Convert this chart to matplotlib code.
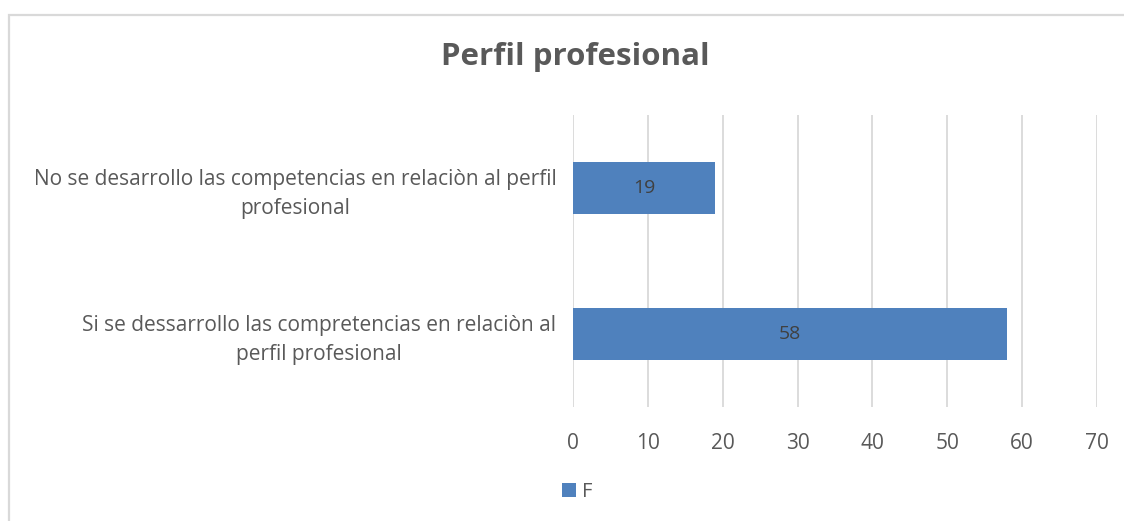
import matplotlib

matplotlib.use("Agg")
import matplotlib.pyplot as plt
from matplotlib.patches import Rectangle

categories = [
    "Si se dessarrollo las compretencias en relaciòn al\nperfil profesional",
    "No se desarrollo las competencias en relaciòn al perfil\nprofesional",
]
values = [58, 19]
series_name = "F"
xticks = [0, 10, 20, 30, 40, 50, 60, 70]

C_BAR = "#4F81BD"
C_TEXT = "#595959"
C_GRID = "#D9D9D9"

plt.rcParams["font.family"] = ["Open Sans", "DejaVu Sans"]

fig = plt.figure(figsize=(11.24, 5.21), dpi=100)
W, H = 1124, 521

# chart frame (cut off at right/bottom edges like the reference)
fig.patches.append(Rectangle((8.5 / W, -0.1), 1.2, 1 - 14.5 / H + 0.1,
                             transform=fig.transFigure, fill=False,
                             edgecolor=C_GRID, linewidth=1.6))

ax = fig.add_axes([573 / W, 1 - 407 / H, (1097 - 573) / W, (407 - 115) / H])
y = list(range(len(categories)))
bars = ax.barh(y, values, height=0.36, color=C_BAR, label=series_name, zorder=3)
for b, v in zip(bars, values):
    ax.text(b.get_width() / 2, b.get_y() + b.get_height() / 2, f"{v}",
            ha="center", va="center", fontsize=14, color="#404040", zorder=4)

ax.set_xlim(0, 70)
ax.set_ylim(-0.5, 1.5)
ax.set_xticks(xticks)
ax.set_yticks(y)
ax.set_yticklabels(categories, fontsize=15, color=C_TEXT,
                   multialignment="center", linespacing=1.45)
ax.tick_params(axis="x", labelsize=15, colors=C_TEXT, length=0, pad=19)
ax.tick_params(axis="y", length=0, pad=12)
ax.grid(axis="x", color=C_GRID, linewidth=1.3, zorder=0)
ax.grid(axis="y", visible=False)
for s in ax.spines.values():
    s.set_visible(False)

fig.text(575 / W, 1 - 57 / H, "Perfil profesional", ha="center", va="center",
         fontsize=22.5, fontweight="bold", color=C_TEXT)

fig.legend(handles=[bars], labels=[series_name], loc="center left",
           bbox_to_anchor=(544 / W, 1 - 492 / H), frameon=False,
           fontsize=14.5, handlelength=0.7, handleheight=0.7, handletextpad=0.3,
           labelcolor=C_TEXT)

fig.savefig("out.png", dpi=100)
